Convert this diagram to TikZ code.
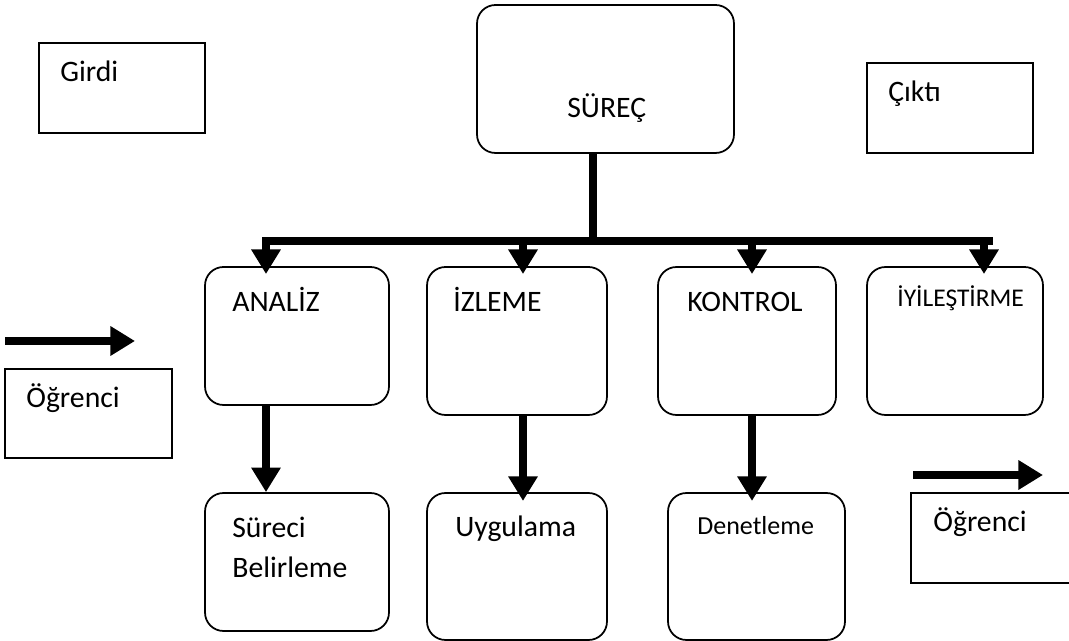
\documentclass[tikz,border=0pt]{standalone}
\usepackage{fontspec}
\setmainfont{Carlito}
\usetikzlibrary{arrows.meta}

\tikzset{
  kutu/.style={draw, line width=1pt, inner sep=0pt},
  yuvarlak/.style={kutu, rounded corners=10.5pt},
  yazi/.style={anchor=base west, inner sep=0pt, align=left, font=\fontsize{16.9pt}{23.2pt}\selectfont},
  kucukyazi/.style={yazi, font=\fontsize{14.8pt}{17pt}\selectfont},
  kalin/.style={line width=4.5pt},
  ok/.style={kalin, -{Triangle[length=14pt,width=16pt]}},
}

\begin{document}
\begin{tikzpicture}[x=0.02cm, y=-0.02cm]
\useasboundingbox (0,0) rectangle (1069,641);
\clip (0,0) rectangle (1069,641);

% kutular
\node[kutu, minimum width=3.32cm, minimum height=1.8cm] (girdi) at (122,88) {};
\node[yuvarlak, minimum width=5.14cm, minimum height=2.96cm] (surec) at (605.5,79) {};
\node[kutu, minimum width=3.32cm, minimum height=1.8cm] (cikti) at (950,108) {};

\node[yuvarlak, minimum width=3.68cm, minimum height=2.76cm] (analiz) at (297,336) {};
\node[yuvarlak, minimum width=3.6cm, minimum height=2.96cm] (izleme) at (517,341) {};
\node[yuvarlak, minimum width=3.56cm, minimum height=2.96cm] (kontrol) at (747,341) {};
\node[yuvarlak, minimum width=3.52cm, minimum height=2.96cm] (iyilestirme) at (955,341) {};

\node[kutu, minimum width=3.34cm, minimum height=1.78cm] (ogrenciA) at (88.5,413.5) {};

\node[yuvarlak, minimum width=3.68cm, minimum height=2.76cm] (belirleme) at (297,562) {};
\node[yuvarlak, minimum width=3.6cm, minimum height=2.94cm] (uygulama) at (517,566.5) {};
\node[yuvarlak, minimum width=3.54cm, minimum height=2.94cm] (denetleme) at (756.5,566.5) {};
\node[kutu, minimum width=3.38cm, minimum height=1.8cm] (ogrenciB) at (995.5,538) {};

% yazilar
\node[yazi] (girdiT) at (60,82) {Girdi};
\node[yazi] (surecT) at (567,118) {SÜREÇ};
\node[yazi] (ciktiT) at (888,102) {Çıktı};
\node[yazi] (analizT) at (232,312) {ANALİZ};
\node[yazi] (izlemeT) at (453,312) {İZLEME};
\node[yazi] (kontrolT) at (687,312) {KONTROL};
\node[kucukyazi, font=\fontsize{14.5pt}{17pt}\selectfont] (iyilestirmeT) at (897,307) {İYİLEŞTİRME};
\node[yazi] (ogrenciAT) at (26,408) {Öğrenci};
\node[yazi] (belirlemeT) at (232,578) {Süreci\\Belirleme};
\node[yazi] (uygulamaT) at (455,537) {Uygulama};
\node[kucukyazi] (denetlemeT) at (697,535) {Denetleme};
\node[yazi] (ogrenciBT) at (933,532) {Öğrenci};

% baglantilar
\coordinate (busL) at (266,241);
\coordinate (busM) at (593,241);
\coordinate (busR) at (989,241);
\coordinate (kolB) at (523,241);
\coordinate (kolC) at (752,241);
\coordinate (kolD) at (984,241);

\draw[kalin] (surec.south -| busM) -- (busM);
\draw[kalin, line cap=rect] (busL) -- (busR);

\draw[ok, shorten >=-4.5pt] (busL) -- (busL |- analiz.north);
\draw[ok, shorten >=-4.5pt] (kolB) -- (kolB |- izleme.north);
\draw[ok, shorten >=-4.5pt] (kolC) -- (kolC |- kontrol.north);
\draw[ok, shorten >=-4.5pt] (kolD) -- (kolD |- iyilestirme.north);

\draw[ok] (busL |- analiz.south) -- (busL |- belirleme.north);
\draw[ok, shorten >=-5pt] (kolB |- izleme.south) -- (kolB |- uygulama.north);
\draw[ok, shorten >=-5pt] (kolC |- kontrol.south) -- (kolC |- denetleme.north);

% girdi / cikti oklari
\coordinate (girisA) at (5,341);
\coordinate (girisB) at (135,341);
\coordinate (cikisA) at (913,475);
\coordinate (cikisB) at (1043,475);
\draw[ok] (girisA) -- (girisB);
\draw[ok] (cikisA) -- (cikisB);
\end{tikzpicture}
\end{document}
